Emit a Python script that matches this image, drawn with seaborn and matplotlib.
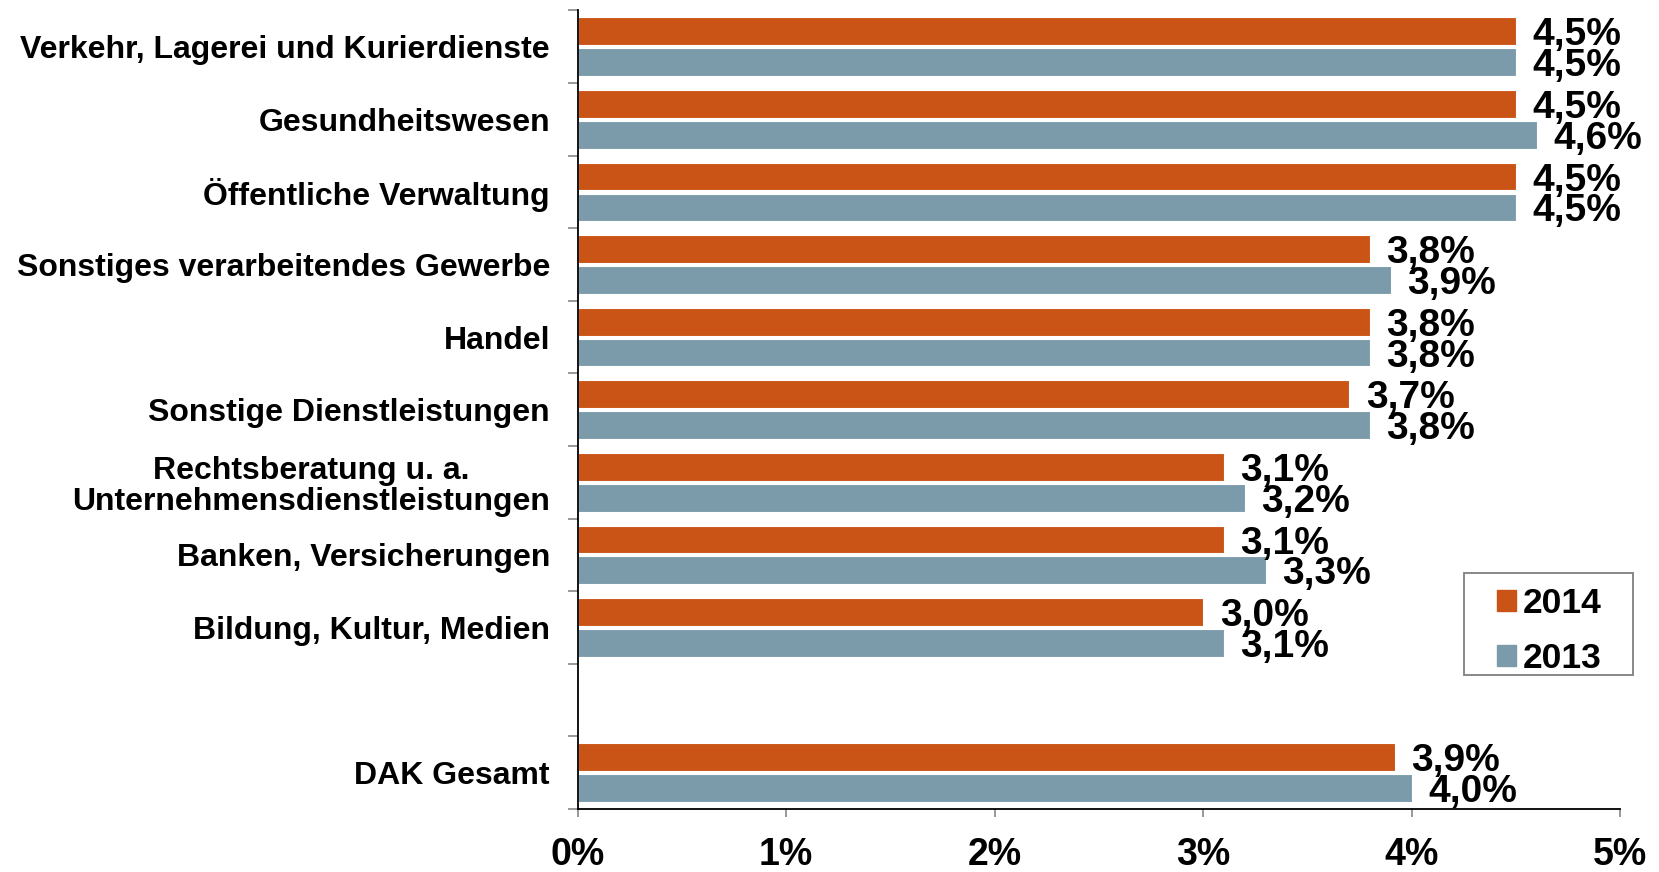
import numpy as np
import pandas as pd
import matplotlib
matplotlib.use("Agg")
import matplotlib.pyplot as plt
from matplotlib.patches import Rectangle
import seaborn as sns

categories = [
    "Verkehr, Lagerei und Kurierdienste",
    "Gesundheitswesen",
    "Öffentliche Verwaltung",
    "Sonstiges verarbeitendes Gewerbe",
    "Handel",
    "Sonstige Dienstleistungen",
    "Rechtsberatung u. a.\nUnternehmensdienstleistungen",
    "Banken, Versicherungen",
    "Bildung, Kultur, Medien",
    "DAK Gesamt",
]
values_2014 = [4.5, 4.5, 4.5, 3.8, 3.8, 3.7, 3.1, 3.1, 3.0, 3.92]
values_2013 = [4.5, 4.6, 4.5, 3.9, 3.8, 3.8, 3.2, 3.3, 3.1, 4.0]
years = ["2014", "2013"]
x_ticks = [0, 1, 2, 3, 4, 5]
x_tick_labels = ["0%", "1%", "2%", "3%", "4%", "5%"]

# slot order incl. empty spacer before "DAK Gesamt"
order = categories[:-1] + [" "] + categories[-1:]

df = pd.DataFrame({
    "Branche": categories * 2,
    "Wert": values_2014 + values_2013,
    "Jahr": [years[0]] * len(categories) + [years[1]] * len(categories),
})

sns.set_theme(style="white")
plt.rcParams["font.family"] = ["Liberation Sans", "DejaVu Sans"]
plt.rcParams["font.weight"] = "bold"
plt.rcParams["text.color"] = "black"
plt.rcParams["xtick.color"] = "black"
plt.rcParams["ytick.color"] = "black"

fig = plt.figure(figsize=(16.59, 8.72), dpi=100)
ax = fig.add_axes([0.3482, 0.0722, 0.9765 - 0.3482, 0.988 - 0.0722])

palette = {"2014": "#CA5416", "2013": "#7B9BAB"}
sns.barplot(data=df, y="Branche", x="Wert", hue="Jahr", order=order,
            hue_order=years, palette=palette, orient="h", width=0.85, gap=0.1,
            edgecolor="white", linewidth=0.8, saturation=1, ax=ax, legend=True)

for cont in ax.containers:
    texts = ax.bar_label(cont, fmt=lambda v: f"{v:.1f}%".replace(".", ","), padding=12,
                         fontsize=28, fontweight="bold", color="black")
    for t in texts:
        t.set_verticalalignment("center_baseline")

ax.set_xlim(0, 5)
ax.set_ylim(len(order) - 0.5, -0.5)
ax.set_xticks(x_ticks)
ax.set_xticklabels(x_tick_labels, fontsize=27, fontweight="bold", color="black")
ax.set_yticks(np.arange(len(order)))
ax.set_yticklabels(order, fontsize=23, fontweight="bold", color="black")
for lbl in ax.get_yticklabels():
    lbl.set_multialignment("center")
    lbl.set_linespacing(1.05)
ax.set_yticks(np.arange(-0.5, len(order), 1), minor=True)
ax.tick_params(axis="y", which="major", length=0, pad=20)
ax.tick_params(axis="y", which="minor", length=7, width=1.2, color="#888888", left=True)
ax.tick_params(axis="x", which="major", length=6, width=1.2, color="#888888", bottom=True, pad=14)
ax.set_xlabel("")
ax.set_ylabel("")

for s in ["top", "right"]:
    ax.spines[s].set_visible(False)
for s in ["left", "bottom"]:
    ax.spines[s].set_color("black")
    ax.spines[s].set_linewidth(1.3)

ax.legend_.remove()
W, H = 1659, 872
handles = [plt.Rectangle((0, 0), 1, 1, color=palette[y]) for y in years]
leg = fig.legend(handles, years, loc="center left",
                 bbox_to_anchor=(1497 / W, 1 - 631 / H),
                 prop={"size": 25.5, "weight": "bold"}, frameon=False,
                 handlelength=0.54, handleheight=0.54,
                 handletextpad=0.2, labelspacing=0.63, borderpad=0,
                 borderaxespad=0)
frame = Rectangle((1464 / W, 1 - 675 / H), (1633 - 1464) / W, (675 - 572.7) / H,
                  transform=fig.transFigure, facecolor="none", edgecolor="#7f7f7f",
                  linewidth=1.3)
fig.add_artist(frame)

fig.savefig("out.png", dpi=100)
